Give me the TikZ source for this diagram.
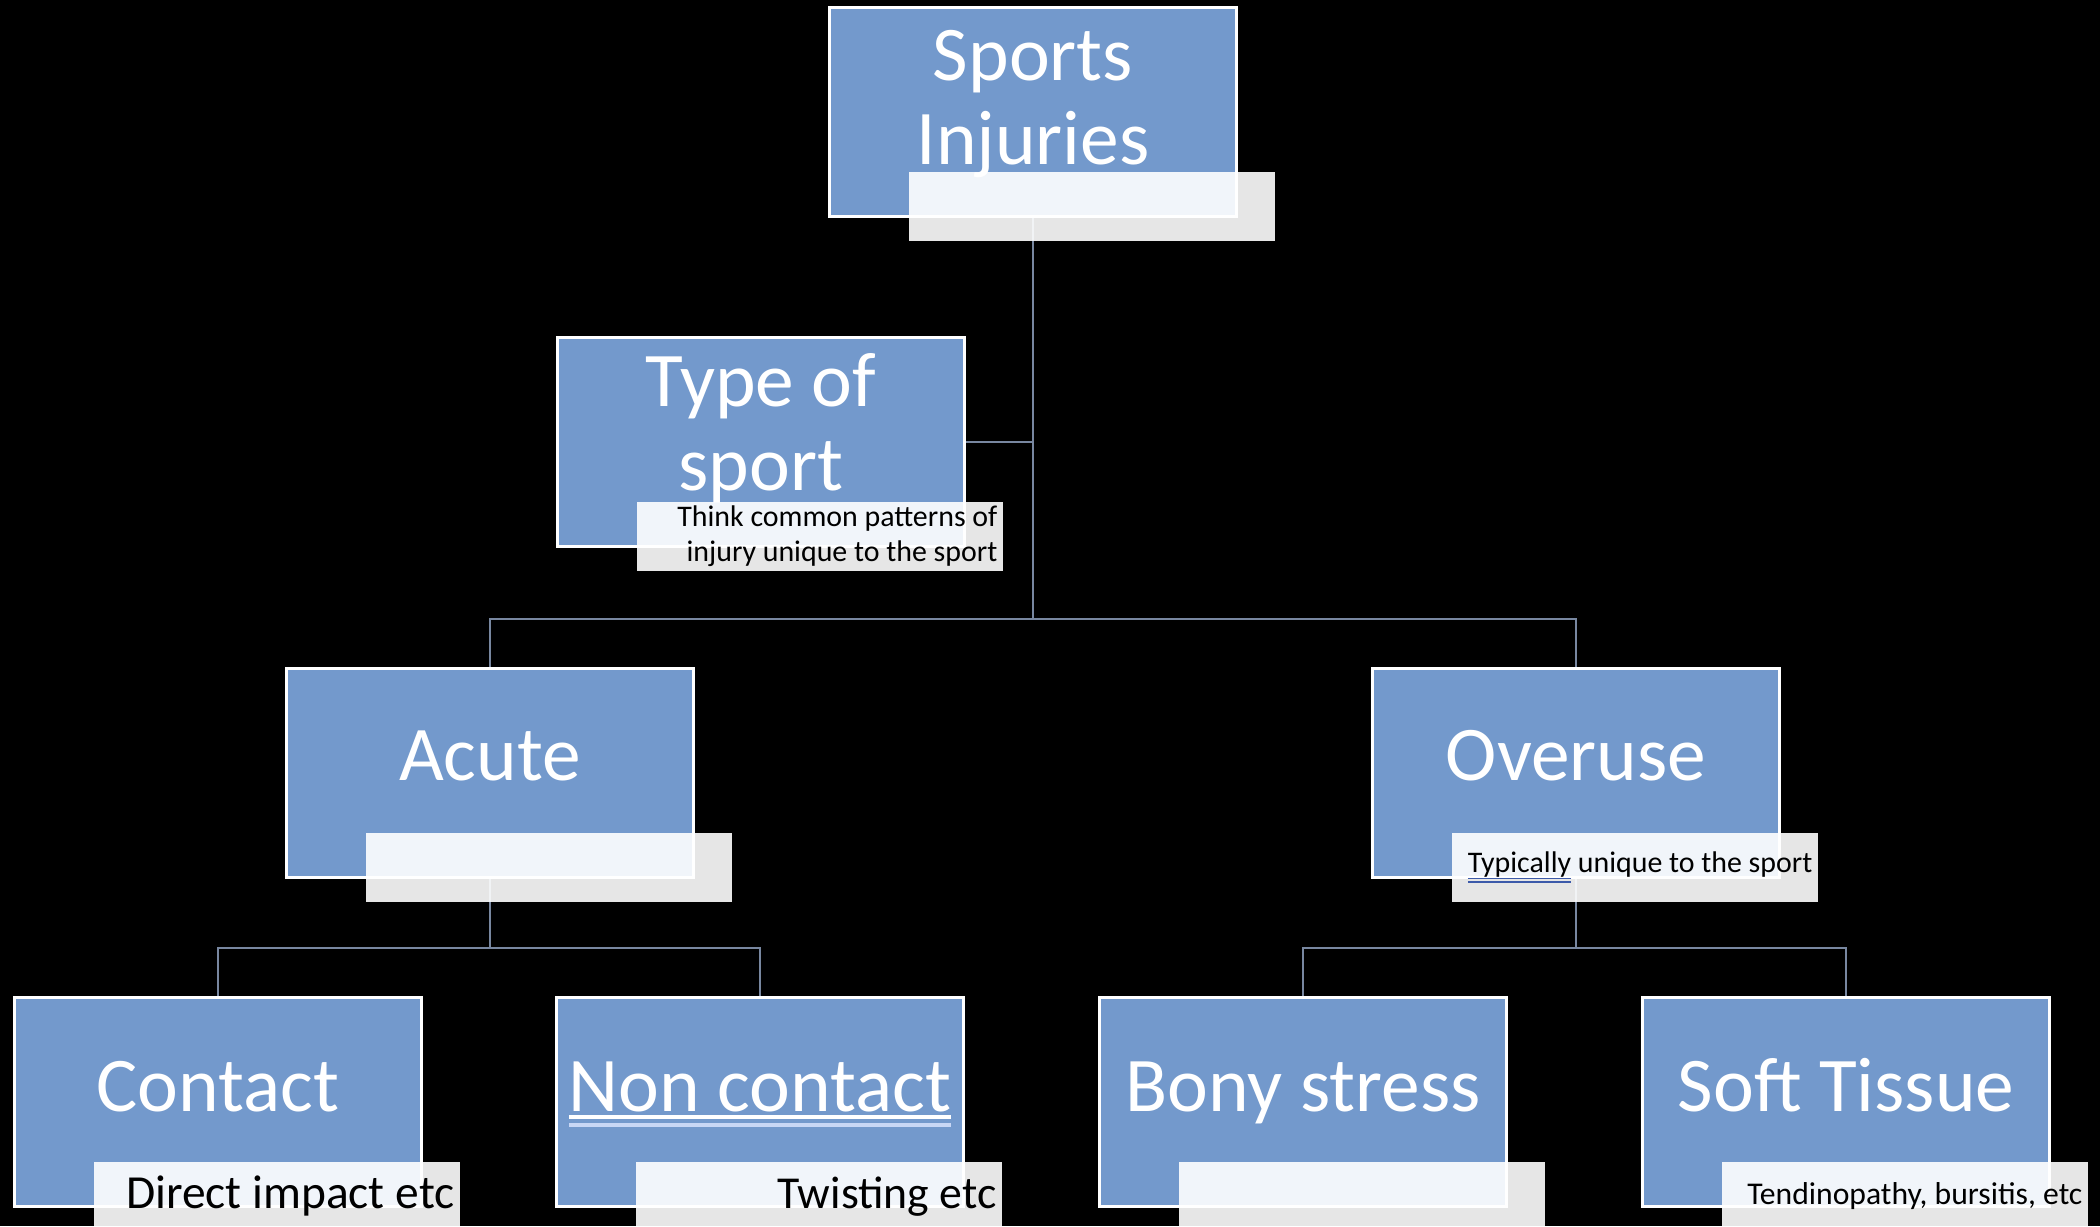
\documentclass[tikz,border=0pt]{standalone}
\usepackage{fontspec}
\setmainfont{Carlito}
\usetikzlibrary{backgrounds}

\definecolor{boxblue}{RGB}{115,153,204}
\definecolor{linkgray}{RGB}{120,135,160}
\definecolor{spellblue}{RGB}{60,90,170}
\definecolor{ulblue}{RGB}{200,215,245}

\newsavebox{\ulinebox}
\newcommand{\twoline}[5]{% top colour, bottom colour, first depth, second depth, text
  \sbox{\ulinebox}{#5}%
  \rlap{\color{#1}\rule[-#3]{\wd\ulinebox}{0.05em}}%
  \rlap{\color{#2}\rule[-#4]{\wd\ulinebox}{0.05em}}%
  \usebox{\ulinebox}}

\tikzset{
  mainbox/.style={draw=white, line width=0.8pt, fill=boxblue,
    minimum width=4.06cm, minimum height=2.09cm, inner sep=0pt},
  boxtext/.style={text=white, align=center, inner sep=0pt,
    font=\fontsize{22}{24}\selectfont},
  notebox/.style={fill=white, fill opacity=0.9, text opacity=1, text=black,
    anchor=north west, minimum width=3.66cm, minimum height=0.69cm,
    inner sep=0pt, text width=3.54cm, align=flush right,
    font=\fontsize{8.5}{10}\selectfont},
  link/.style={draw=linkgray, line width=0.6pt}
}

\begin{document}
\begin{tikzpicture}[x=0.01cm,y=-0.01cm]
  \useasboundingbox (0,0) rectangle (2100,1226);
  \clip (0,0) rectangle (2100,1226);

  \node[mainbox] (root) at (1033,112) {};
  \node[mainbox] (sport) at (761,442) {};
  \node[mainbox] (acute) at (490,773) {};
  \node[mainbox] (overuse) at (1576,773) {};
  \node[mainbox] (contact) at (218,1102) {};
  \node[mainbox] (noncontact) at (760,1102) {};
  \node[mainbox] (bony) at (1303,1102) {};
  \node[mainbox] (soft) at (1846,1102) {};

  \node[boxtext] (roottext) at (1033,104) {Sports\\Injuries};
  \node[boxtext] (sporttext) at (761,428) {Type of\\sport};
  \node[boxtext, anchor=base] (acutetext) at (490,780) {Acute};
  \node[boxtext, anchor=base] (overusetext) at (1576,780) {Overuse};
  \node[boxtext, anchor=base] (contacttext) at (218,1111) {Contact};
  \node[boxtext, anchor=base] (noncontacttext) at (760,1111)
    {\twoline{white}{ulblue}{0.1em}{0.2em}{Non contact}};
  \node[boxtext, anchor=base] (bonytext) at (1303,1111) {Bony stress};
  \node[boxtext, anchor=base] (softtext) at (1846,1111) {Soft Tissue};

  \node[notebox] (rootnote) at ([shift={(80,-47)}]root.south west) {};
  \node[notebox] (sportnote) at ([shift={(80,-47)}]sport.south west)
    {Think common patterns of\\injury unique to the sport};
  \node[notebox] (acutenote) at ([shift={(80,-47)}]acute.south west) {};
  \node[notebox] (overusenote) at ([shift={(80,-47)}]overuse.south west)
    {\twoline{spellblue}{spellblue}{0.24em}{0.36em}{Typically} unique to the sport};
  \node[notebox, font=\fontsize{13.5}{15}\selectfont] (contactnote) at ([shift={(80,-47)}]contact.south west)
    {Direct impact etc};
  \node[notebox, font=\fontsize{13}{15}\selectfont] (noncontactnote) at ([shift={(80,-47)}]noncontact.south west)
    {Twisting etc};
  \node[notebox] (bonynote) at ([shift={(80,-47)}]bony.south west) {};
  \node[notebox, font=\fontsize{9}{11}\selectfont] (softnote) at ([shift={(80,-47)}]soft.south west)
    {Tendinopathy, bursitis, etc};

  \coordinate (busA) at (1033,619);
  \coordinate (busB) at (490,948);
  \coordinate (busC) at (1576,948);

  \begin{scope}[on background layer]
    \fill[black] (0,0) rectangle (2100,1226);
    \draw[link] (root.south) -- (busA);
    \draw[link] (sport.east) -- (sport.east -| busA);
    \draw[link] (acute.north) |- (busA) -| (overuse.north);
    \draw[link] (acute.south) -- (busB);
    \draw[link] (contact.north) |- (busB) -| (noncontact.north);
    \draw[link] (overuse.south) -- (busC);
    \draw[link] (bony.north) |- (busC) -| (soft.north);
  \end{scope}
\end{tikzpicture}
\end{document}
